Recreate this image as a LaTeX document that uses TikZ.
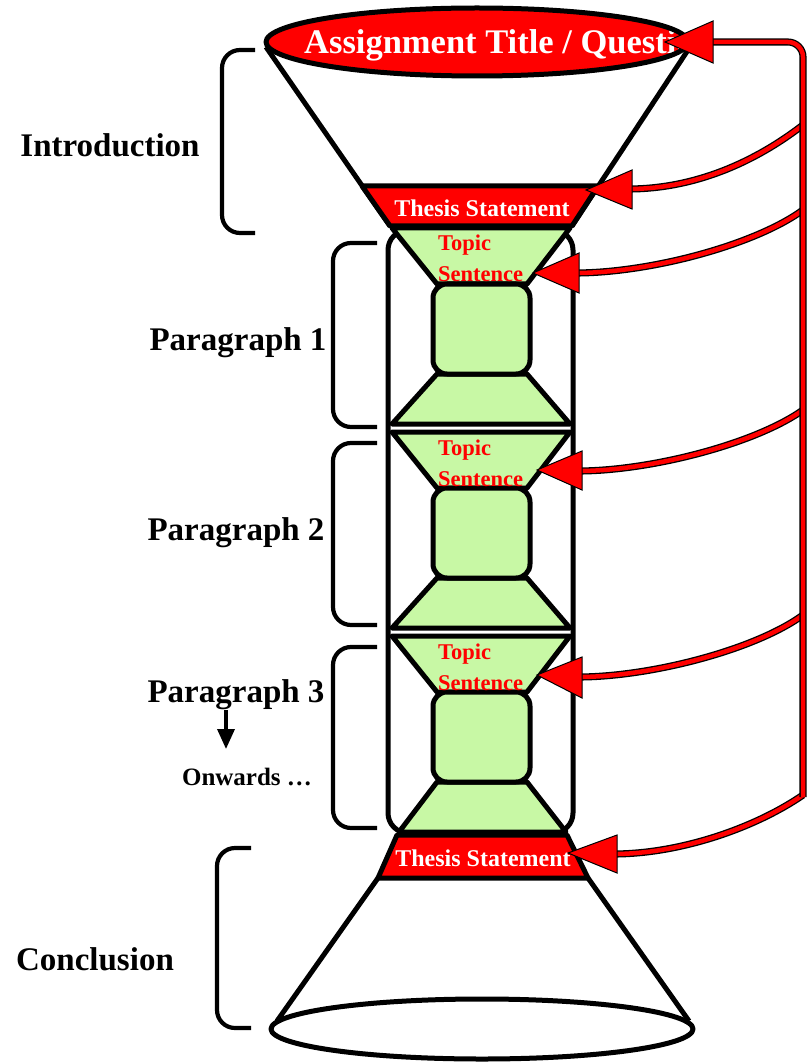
\documentclass[tikz,border=0pt]{standalone}
\usepackage{fontspec}
\setmainfont{Liberation Serif}
\usetikzlibrary{arrows.meta}
\definecolor{pgreen}{RGB}{200,248,165}
\begin{document}
\begin{tikzpicture}[x=1pt,y=-1pt,
  outl/.style={line width=5pt, line join=round},
  grn/.style={outl, draw=black, fill=pgreen},
  redshape/.style={outl, draw=black, fill=red},
  brk/.style={line width=4.2pt, rounded corners=18pt},
  conn/.style={draw=black, double=red, double distance=4.5pt, line width=1.3pt},
  head/.style={draw=black, fill=red, line width=1pt, line join=miter},
  lab/.style={font=\fontsize{33}{38}\selectfont\bfseries, inner sep=0pt, anchor=base},
  tlab/.style={font=\fontsize{22.5}{26}\selectfont\bfseries, text=red, inner sep=0pt, anchor=base west},
  wlab/.style={font=\fontsize{24}{28}\selectfont\bfseries, text=white, inner sep=0pt, anchor=base},
]
\useasboundingbox (0,0) rectangle (808,1064);

% ---- Introduction funnel
\draw[outl] (266,47) -- (390,226) (572,226) -- (688,50);
\begin{scope}
  \clip (477,42) ellipse [x radius=211pt, y radius=34pt];
  \fill[red] (477,42) ellipse [x radius=211pt, y radius=34pt];
  \node[font=\fontsize{34.5}{40}\selectfont\bfseries, text=white, inner sep=0pt, anchor=base west] (title) at (304,54) {Assignment Title / Question};
\end{scope}
\draw[outl] (477,42) ellipse [x radius=211pt, y radius=34pt];

% ---- paragraph container
\draw[outl, rounded corners=20pt] (388,230) rectangle (573,833);

% ---- paragraphs
\foreach \y/\bl/\br in {228/392/570, 432/392/570, 636/399/566} {
  \draw[grn] (392,\y) -- (570,\y) -- (527,\y+56) -- (437,\y+56) -- cycle;
  \draw[grn] (437,\y+146) -- (527,\y+146) -- (\br,\y+196) -- (\bl,\y+196) -- cycle;
  \draw[grn, rounded corners=14pt] (433,\y+56) rectangle (530,\y+146);
  \node[tlab] at (438,\y+23) {Topic};
  \node[tlab] at (438,\y+54) {Sentence};
}

% ---- thesis statements
\draw[redshape] (362,186) -- (598,186) -- (572,226) -- (390,226) -- cycle;
\node[wlab] (thesis1) at (482,217) {Thesis Statement};
\draw[redshape] (397,835) -- (567,835) -- (588,878) -- (378,878) -- cycle;
\node[wlab] (thesis2) at (483,866) {Thesis Statement};

% ---- conclusion cone
\draw[outl] (378,878) -- (277,1021) (588,878) -- (689,1021);
\draw[outl, fill=white] (482,1029) ellipse [x radius=211pt, y radius=30pt];

% ---- brackets
\draw[brk] (255,50) -- (222,50) -- (222,233) -- (255,233);
\draw[brk] (377,243) -- (333,243) -- (333,427) -- (377,427);
\draw[brk] (377,443) -- (333,443) -- (333,625) -- (377,625);
\draw[brk] (377,647) -- (333,647) -- (333,828) -- (377,828);
\draw[brk] (251,848) -- (217,848) -- (217,1028) -- (251,1028);

% ---- labels
\node[lab] (intro) at (110,157) {Introduction};
\node[lab] (p1) at (238,350) {Paragraph 1};
\node[lab] (p2) at (236,540) {Paragraph 2};
\node[lab] (p3) at (236,702) {Paragraph 3};
\node[lab] (concl) at (95,970) {Conclusion};
\node[font=\fontsize{25}{28}\selectfont\bfseries, inner sep=0pt, anchor=base] (onw) at (247,785) {Onwards …};
\coordinate (da1) at (226,710);
\coordinate (da2) at (226,749);
\draw[line width=3.5pt, -{Triangle[length=20pt,width=17pt]}] (da1) -- (da2);

% ---- red connectors
\coordinate (b1) at (803,125); \coordinate (e1) at (628,189);
\coordinate (b2) at (803,210); \coordinate (e2) at (575,273);
\coordinate (b3) at (803,410); \coordinate (e3) at (578,471);
\coordinate (b4) at (803,615); \coordinate (e4) at (578,677);
\coordinate (b5) at (803,795); \coordinate (e5) at (613,854);
\draw[conn] (b1) .. controls (755,162) and (695,189) .. (e1);
\draw[conn] (b2) .. controls (755,245) and (650,273) .. (e2);
\draw[conn] (b3) .. controls (755,444) and (650,471) .. (e3);
\draw[conn] (b4) .. controls (755,650) and (650,677) .. (e4);
\draw[conn] (b5) .. controls (755,828) and (680,854) .. (e5);
\coordinate (bartop) at (708,42);
\draw[conn, rounded corners=15pt] (803,797) -- (803,42) -- (bartop);

% ---- arrowheads
\draw[head] (665,42) -- (713,21) -- (713,63) -- cycle;
\draw[head] (586,190) -- (632,170) -- (632,209) -- cycle;
\draw[head] (533,273) -- (579,253) -- (579,293) -- cycle;
\draw[head] (537,470) -- (582,451) -- (582,490) -- cycle;
\draw[head] (537,675) -- (582,657) -- (582,698) -- cycle;
\draw[head] (568,853) -- (617,835) -- (617,873) -- cycle;
\end{tikzpicture}
\end{document}
